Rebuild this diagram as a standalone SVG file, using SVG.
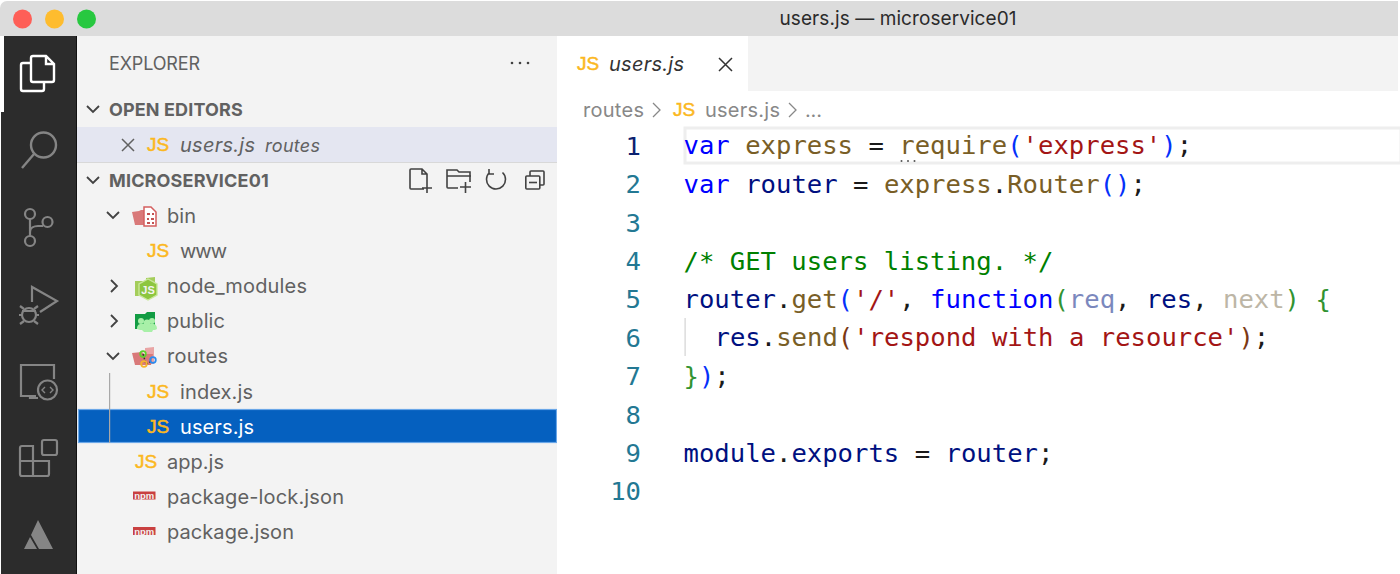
<svg xmlns="http://www.w3.org/2000/svg" width="1400" height="574" viewBox="0 0 1400 574">
<style>
.ui{font-family:"Inter","Liberation Sans",sans-serif;font-size:20px;fill:#616161}
.b{font-weight:700;font-size:18px;letter-spacing:.3px}
.it{font-style:italic}
.js{font-family:"Liberation Sans",sans-serif;font-weight:400;font-size:19px;fill:#fbb81f;stroke:#fbb81f;stroke-width:.5}
.code{font-family:"DejaVu Sans Mono",monospace;font-size:25.6px;white-space:pre}
.num{font-family:"DejaVu Sans Mono",monospace;font-size:25.6px;fill:#237893;text-anchor:end}
.ico{fill:none;stroke:#858585;stroke-width:2.2}
.tool{fill:none;stroke:#424242;stroke-width:1.6}
.chev{fill:none;stroke:#424242;stroke-width:1.8}
.npm{font-family:"Liberation Sans",sans-serif;font-size:9.500px;font-weight:700;fill:#f3f3f3;text-anchor:middle}
.kw{fill:#0000ff}.fn{fill:#795e26}.id{fill:#001080}.st{fill:#a31515}.op{fill:#1a1a1a}.cm{fill:#008000}.br{fill:#0431fa}.gr{fill:#319331}.un{fill:#7b88bd}.un2{fill:#bdb6a6}.br3{fill:#7b3814}
</style>
<rect width="1400" height="574" fill="#ffffff"/>
<g id="titlebar">
<path d="M0 36V8a7 7 0 0 1 7-7H1398V36z" fill="#dcdcdc"/>
<circle cx="22.500" cy="19" r="9.500" fill="#fe5f57"/>
<circle cx="54.500" cy="19" r="9.500" fill="#febc2e"/>
<circle cx="86.500" cy="19" r="9.500" fill="#28c840"/>
<text x="898" y="25" text-anchor="middle" class="ui" style="fill:#2b2b2b;font-size:19px" textLength="237">users.js — microservice01</text>
</g>
<g id="activity-bar">
<rect x="4" y="36" width="72" height="76" fill="#2c2c2c"/>
<rect x="1" y="112" width="75" height="462" fill="#2c2c2c"/>
<rect x="76" y="36" width="1" height="538" fill="#111111"/>
<g fill="none" stroke="#ffffff" stroke-width="2.400">
<path d="M31 63H23a2 2 0 0 0-2 2v24a2 2 0 0 0 2 2h19a2 2 0 0 0 2-2v-7"/>
<path d="M31 80V58a2 2 0 0 1 2-2h13l8 8v16a2 2 0 0 1-2 2H33a2 2 0 0 1-2-2zM46 56v8h8"/>
</g>
<g class="ico"><circle cx="43.500" cy="145" r="12.500" stroke-width="2.400"/><path d="M34 154L22 168" stroke-width="2.400"/></g>
<g class="ico"><circle cx="30" cy="214" r="5"/><circle cx="30" cy="241" r="5"/><circle cx="47.500" cy="222" r="5"/><path d="M30 219v17M30 232c0-4 4-6 8-6h5"/></g>
<g class="ico"><path d="M32 302v-15l25 14-17 11"/><circle cx="29" cy="315" r="7"/><path d="M24 309l-4-3M34 309l4-3M22 315h-3M36 315h3M24 321l-4 3M34 321l4 3M22 311h14"/></g>
<g class="ico"><path d="M36 396H21v-31h33v14M30 396v2h8"/><circle cx="47.500" cy="390" r="9.500"/><path d="M45 387l-3 3 3 3M50 387l3 3-3 3" stroke-width="1.400"/></g>
<g class="ico"><rect x="42" y="440" width="15" height="15" rx="2"/><path d="M20 448a2 2 0 0 1 2-2h11v30H22a2 2 0 0 1-2-2zM20 461h29v13a2 2 0 0 1-2 2H33"/></g>
<path d="M38 520L53 549H39L31 535zM30 537L37 549H24z" fill="#858585"/>
</g>
<g id="sidebar">
<rect x="77" y="36" width="480" height="538" fill="#f3f3f3"/>
<rect x="0" y="36" width="4" height="76" fill="#ffffff"/>
<text x="109" y="70" class="ui" style="font-size:18px" textLength="91">EXPLORER</text>
<g fill="#424242"><circle cx="512" cy="63" r="1.300"/><circle cx="520" cy="63" r="1.300"/><circle cx="528" cy="63" r="1.300"/></g>
</g>
<g id="open-editors">
<path class="chev" d="M87 106l6 6 6-6"/>
<text x="109" y="115.500" class="ui b" textLength="134">OPEN EDITORS</text>
<rect x="77" y="127" width="480" height="35" fill="#e4e6f1"/>
<rect x="77" y="162" width="480" height="1" fill="#d8d8d8"/>
<path d="M122 139l12 12M134 139l-12 12" fill="none" stroke="#616161" stroke-width="1.500"/>
<text x="147" y="151" class="js">JS</text>
<text x="180" y="151.500" class="ui it" textLength="75">users.js</text>
<text x="265" y="151.500" class="ui it" style="font-size:18px" textLength="55">routes</text>
</g>
<g id="project-header">
<path class="chev" d="M87 177l6 6 6-6"/>
<text x="109" y="186.500" class="ui b" textLength="160">MICROSERVICE01</text>
<g class="tool">
<path d="M424 189h-13a1 1 0 0 1-1-1v-18a1 1 0 0 1 1-1h11l5 5v9M422 169v5h5M422 188h10M427 183v10"/>
<path d="M458 188h-10a1 1 0 0 1-1-1v-17h10l2 2h11v10M447 176h24M460 187h11M465.500 182v11"/>
<path d="M489.500 172.500a9.500 9.500 0 1 0 13 0M489 169v5h5"/>
<path d="M530 176v-4a1 1 0 0 1 1-1h12a1 1 0 0 1 1 1v12a1 1 0 0 1-1 1h-3"/>
<rect x="525.800" y="176" width="14" height="13" rx="1"/>
<path d="M529 182.500h8"/>
</g>
</g>
<g id="row-bin">
<path class="chev" d="M107 212l6 6 6-6"/>
<path d="M132 212l7-1 2-1h4v15h-10z" fill="#d97979"/>
<path d="M144 207h7l5 5v14h-12z" fill="#fff" stroke="#d45f5f" stroke-width="1.500"/>
<path d="M147 214h3M152 214h2M147 219h2M151 219h3M147 223h3M152 223h2" stroke="#c25151" stroke-width="2" fill="none"/>
<text x="167" y="222.500" class="ui" textLength="29">bin</text>
</g>
<g id="row-www">
<text x="147" y="257" class="js">JS</text>
<text x="180" y="257.500" class="ui" textLength="47">www</text>
</g>
<g id="row-node-modules">
<path class="chev" d="M111 280l6 6-6 6"/>
<path d="M135 281h11v-3l9-1v19h-20z" fill="#a4cd5a"/>
<path d="M148 279l9 5v11l-9 5-9-5v-11z" fill="#8dc63f" stroke="#c9e79a" stroke-width="1.400"/>
<text x="148" y="294" text-anchor="middle" style="font-family:'Liberation Sans',sans-serif;font-size:11px;font-weight:700;fill:#f3f3f3">JS</text>
<text x="167" y="292.500" class="ui" textLength="140">node_modules</text>
</g>
<g id="row-public">
<path class="chev" d="M111 315l6 6-6 6"/>
<path d="M135 314h10l2-2h8v17h-20z" fill="#129c43"/>
<g fill="#a8f0a8"><circle cx="141" cy="321" r="3"/><circle cx="152" cy="321" r="3"/><circle cx="147" cy="323" r="3.500"/><path d="M137 329c0-4 2-5 4-5l12 0c2 0 4 1 4 5l-2 1-2 0-1 2h-8l-2-2-2 0z"/></g>
<text x="167" y="327.500" class="ui" textLength="58">public</text>
</g>
<g id="row-routes">
<path class="chev" d="M107 353l6 6 6-6"/>
<path d="M145 348l9-1v17h-9z" fill="#e9a5a5"/>
<path d="M132 353l10-1 2 2h9l-2 11h-16z" fill="#d97979"/>
<path d="M143 354l3 10 6-3" stroke="#333" stroke-width="1.500" stroke-dasharray="2 1.500" fill="none"/>
<circle cx="143" cy="354" r="2.800" fill="none" stroke="#5fd02c" stroke-width="1.800"/>
<circle cx="153" cy="360" r="2.800" fill="none" stroke="#2a8bef" stroke-width="1.800"/>
<circle cx="144" cy="364" r="2.800" fill="none" stroke="#f6b42c" stroke-width="1.800"/>
<text x="167" y="363" class="ui" textLength="61">routes</text>
</g>
<g id="row-index">
<text x="147" y="398" class="js">JS</text>
<text x="180" y="398.500" class="ui" textLength="73">index.js</text>
</g>
<g id="row-users">
<rect x="78.500" y="409.500" width="478" height="33" fill="#0560bf" stroke="#6aa7e8" stroke-width="1.200"/>
<text x="147" y="433" class="js">JS</text>
<text x="180" y="433.500" class="ui" style="fill:#fff" textLength="74">users.js</text>
</g>
<rect x="109" y="373" width="1.200" height="70" fill="#a8a8a8"/>
<g id="row-app">
<text x="135" y="468" class="js">JS</text>
<text x="167" y="468.500" class="ui" textLength="57">app.js</text>
</g>
<g id="row-package-lock">
<rect x="133" y="491.500" width="22.500" height="8" fill="#c94040"/>
<text x="144.250" y="499" class="npm" textLength="20">npm</text>
<text x="167" y="503.500" class="ui" textLength="177">package-lock.json</text>
</g>
<g id="row-package">
<rect x="133" y="527" width="22.500" height="8" fill="#c94040"/>
<text x="144.250" y="534.500" class="npm" textLength="20">npm</text>
<text x="167" y="539" class="ui" textLength="127">package.json</text>
</g>
<g id="editor">
<rect x="557" y="36" width="843" height="538" fill="#ffffff"/>
<rect x="748" y="36" width="650" height="55" fill="#f3f3f3"/>
<text x="577" y="70" class="js">JS</text>
<text x="609" y="71" class="ui it" style="fill:#333" textLength="75">users.js</text>
<path d="M719 58l13 13M732 58l-13 13" fill="none" stroke="#333" stroke-width="1.500"/>
<text x="583" y="117" class="ui" style="fill:#888" textLength="61">routes</text>
<path d="M653 103l7 7-7 7" fill="none" stroke="#888" stroke-width="1.300"/>
<text x="673" y="116" class="js">JS</text>
<text x="705" y="117" class="ui" style="fill:#888" textLength="75">users.js</text>
<path d="M789 103l7 7-7 7" fill="none" stroke="#888" stroke-width="1.300"/>
<text x="805" y="117" class="ui" style="fill:#888" textLength="17">...</text>
<rect x="685" y="128" width="716" height="35" fill="none" stroke="#eeeeee" stroke-width="3"/>
<rect x="684.500" y="318" width="1.200" height="38" fill="#d3d3d3"/>
<g fill="#555"><circle cx="901.500" cy="161" r="1"/><circle cx="908" cy="161" r="1"/><circle cx="914.500" cy="161" r="1"/></g>
<g id="line-numbers">
<text x="641" y="154.500" class="num" style="fill:#0b216f">1</text>
<text x="641" y="193" class="num">2</text>
<text x="641" y="231.500" class="num">3</text>
<text x="641" y="270" class="num">4</text>
<text x="641" y="308" class="num">5</text>
<text x="641" y="346.500" class="num">6</text>
<text x="641" y="385" class="num">7</text>
<text x="641" y="423.500" class="num">8</text>
<text x="641" y="462" class="num">9</text>
<text x="641" y="500" class="num">10</text>
</g>
<g id="code">
<text x="683.500" y="154" class="code" xml:space="preserve"><tspan class="kw">var</tspan> <tspan class="fn">express</tspan> <tspan class="op">=</tspan> <tspan class="fn">require</tspan><tspan class="br">(</tspan><tspan class="st">'express'</tspan><tspan class="br">)</tspan><tspan class="op">;</tspan></text>
<text x="683.500" y="193" class="code" xml:space="preserve"><tspan class="kw">var</tspan> <tspan class="id">router</tspan> <tspan class="op">=</tspan> <tspan class="fn">express</tspan><tspan class="op">.</tspan><tspan class="fn">Router</tspan><tspan class="br">()</tspan><tspan class="op">;</tspan></text>
<text x="683.500" y="270" class="code cm">/* GET users listing. */</text>
<text x="683.500" y="308" class="code" xml:space="preserve"><tspan class="id">router</tspan><tspan class="op">.</tspan><tspan class="fn">get</tspan><tspan class="br">(</tspan><tspan class="st">'/'</tspan><tspan class="op">,</tspan> <tspan class="kw">function</tspan><tspan class="gr">(</tspan><tspan class="un">req</tspan><tspan class="op">,</tspan> <tspan class="id">res</tspan><tspan class="op">,</tspan> <tspan class="un2">next</tspan><tspan class="gr">)</tspan> <tspan class="gr">{</tspan></text>
<text x="714.500" y="346" class="code" xml:space="preserve"><tspan class="id">res</tspan><tspan class="op">.</tspan><tspan class="fn">send</tspan><tspan class="br3">(</tspan><tspan class="st">'respond with a resource'</tspan><tspan class="br3">)</tspan><tspan class="op">;</tspan></text>
<text x="683.500" y="385" class="code" xml:space="preserve"><tspan class="gr">}</tspan><tspan class="br">)</tspan><tspan class="op">;</tspan></text>
<text x="683.500" y="462" class="code" xml:space="preserve"><tspan class="id">module</tspan><tspan class="op">.</tspan><tspan class="id">exports</tspan> <tspan class="op">=</tspan> <tspan class="id">router</tspan><tspan class="op">;</tspan></text>
</g>
</g>
</svg>
